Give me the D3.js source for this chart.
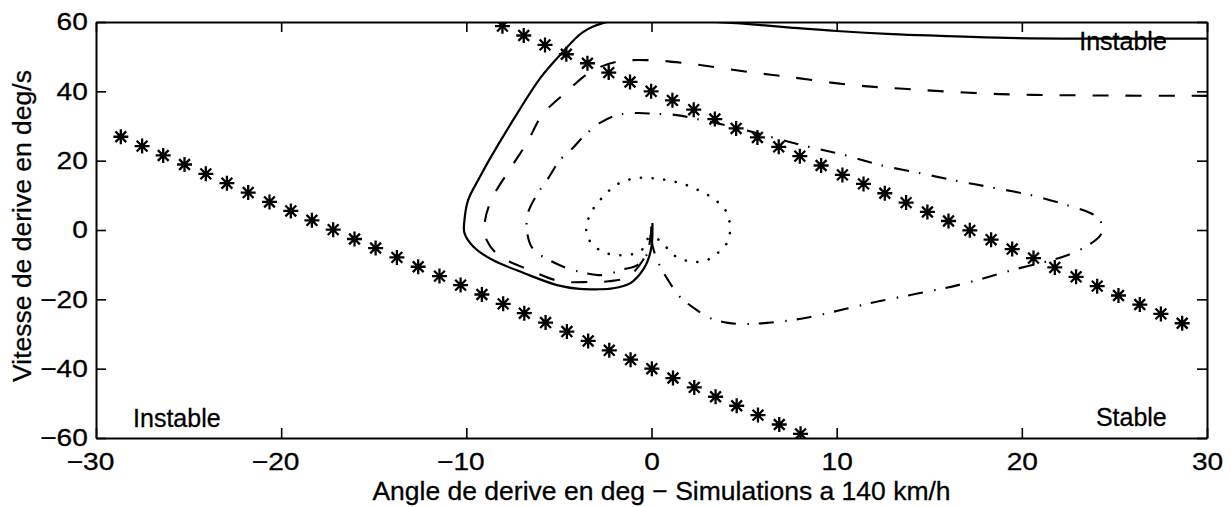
<!DOCTYPE html>
<html><head><meta charset="utf-8">
<script src="https://cdn.jsdelivr.net/npm/d3@7"></script>
<style>body{margin:0;background:#fff}svg{display:block}</style>
</head><body>
<svg id="chart" width="1231" height="507"></svg>
<script>
// ---- data ----
const xTicks = [-30, -20, -10, 0, 10, 20, 30];
const yTicks = [-60, -40, -20, 0, 20, 40, 60];

// asterisk line (lower, "Instable" boundary)
const starLowX = [-28.66,-27.51,-26.37,-25.22,-24.07,-22.93,-21.78,-20.63,-19.48,-18.34,-17.19,-16.04,-14.90,-13.75,-12.60,-11.45,-10.31,-9.16,-8.01,-6.87,-5.72,-4.57,-3.42,-2.28,-1.13,0.02,1.16,2.31,3.46,4.60,5.75,6.90,8.05];
const starLowY = [26.9,24.2,21.5,18.9,16.2,13.5,10.8,8.1,5.5,2.8,0.1,-2.6,-5.2,-7.9,-10.6,-13.3,-15.9,-18.6,-21.3,-24.0,-26.7,-29.3,-32.0,-34.7,-37.4,-40.0,-42.7,-45.4,-48.1,-50.7,-53.4,-56.1,-58.8];
// asterisk line (upper)
const starHighX = [-8.05,-6.90,-5.75,-4.60,-3.46,-2.31,-1.16,-0.02,1.13,2.28,3.42,4.57,5.72,6.87,8.01,9.16,10.31,11.45,12.60,13.75,14.90,16.04,17.19,18.34,19.48,20.63,21.78,22.93,24.07,25.22,26.37,27.51,28.66];
const starHighY = [58.8,56.1,53.4,50.7,48.1,45.4,42.7,40.0,37.4,34.7,32.0,29.3,26.7,24.0,21.3,18.6,15.9,13.3,10.6,7.9,5.2,2.6,-0.1,-2.8,-5.5,-8.1,-10.8,-13.5,-16.2,-18.9,-21.5,-24.2,-26.9];

// trajectories
const solidX  = [0.05,0.0,-0.26,-0.62,-1.16,-2.06,-2.96,-3.9,-5.1,-6.9,-8.6,-9.6,-10.1,-10.1,-9.9,-9.3,-8.7,-7.3,-6.0,-4.8,-3.7,-2.4,-1.0,1.0,3.0,4.8,7.5,10.0,13.0,15.6,19.2,24.0,30.0];
const solidY  = [2.0,-4.8,-9.6,-12.7,-15.4,-16.8,-17.1,-17.0,-15.9,-12.4,-8.6,-4.9,-0.9,2.9,8.7,15.0,20.8,33.2,43.9,51.3,57.1,60.0,60.6,60.6,60.2,59.6,58.4,57.4,56.5,56.0,55.4,55.2,55.2];

const dashedX = [0.0,-0.1,-0.5,-1.3,-2.3,-3.3,-5.0,-6.6,-8.2,-8.9,-9.0,-8.6,-7.6,-6.7,-5.9,-4.6,-3.3,-1.9,-0.2,1.7,5.2,7.5,10.5,13.4,18.8,24.2,30.0];
const dashedY = [1.0,-3.5,-9.0,-13.6,-14.8,-15.0,-14.7,-11.5,-7.5,-2.9,2.3,9.2,17.9,25.4,33.2,39.8,45.6,48.5,49.0,48.2,45.6,44.1,42.0,40.8,39.2,38.8,38.7];

const dashDotX = [0.0,-0.27,-0.76,-1.6,-2.62,-3.59,-4.56,-5.54,-6.40,-6.72,-6.67,-6.13,-5.64,-4.94,-4.35,-3.59,-2.78,-1.81,-0.78,0.19,1.27,2.46,4.40,8.34,10.45,12.34,14.50,16.55,18.55,20.71,22.6,23.57,24.11,24.38,24.22,23.52,22.49,21.25,19.52,18.55,16.55,14.50,12.34,10.45,8.29,6.24,5.16,4.13,3.16,2.29,1.54,0.89,0.35,0.05,0.0];
const dashDotY = [0.0,-7.2,-10.1,-11.5,-13.0,-12.4,-11.0,-8.65,-5.5,-0.6,4.9,10.7,14.4,20.2,23.1,27.4,30.9,33.2,33.75,33.5,33.2,32.0,29.7,24.2,21.6,18.75,16.4,14.1,12.1,9.8,6.9,5.2,3.5,0.6,-1.7,-4.6,-7.2,-9.2,-11.5,-13.0,-15.9,-18.2,-20.5,-22.8,-25.4,-26.8,-27.1,-26.8,-25.4,-22.5,-19.3,-14.4,-9.2,-4.3,-0.6];

const dottedX = [0.0,-0.16,-0.27,-0.65,-1.30,-1.89,-2.49,-3.03,-3.46,-3.51,-3.30,-2.97,-2.51,-2.08,-1.46,-0.81,-0.19,0.46,1.11,1.70,2.29,2.94,3.43,3.91,4.18,4.24,4.08,3.65,3.11,2.51,1.92,1.27,0.84,0.35,0.05];
const dottedY = [0.6,-1.4,-3.7,-6.3,-7.2,-7.2,-6.6,-4.9,-2.0,1.4,4.6,7.5,10.1,12.4,14.1,15.0,15.0,14.7,14.1,13.3,12.1,10.4,8.7,6.4,3.2,-0.6,-3.7,-6.3,-8.4,-9.2,-8.9,-7.5,-5.2,-2.6,0.0];

const annotTexts = ["Instable", "Instable", "Stable"];
const annotX = [23.1, -28.0, 24.0];
const annotY = [51.9, -56.8, -56.5];

const xLabel = "Angle de derive en deg \u2212 Simulations a 140 km/h";
const yLabel = "Vitesse de derive en deg/s";

// ---- drawing ----
const svg = d3.select("#chart");
const FONT = "'Liberation Sans', Arial, Helvetica, sans-serif";
const x = d3.scaleLinear().domain([-30, 30]).range([96, 1207]);
const y = d3.scaleLinear().domain([-60, 60]).range([438, 22]);

svg.append("rect").attr("width", 1231).attr("height", 507).attr("fill", "#fff");

svg.append("clipPath").attr("id", "plotclip")
  .append("rect")
  .attr("x", x(-30)).attr("y", y(60))
  .attr("width", x(30) - x(-30)).attr("height", y(-60) - y(60));

const plot = svg.append("g").attr("clip-path", "url(#plotclip)");

const line = d3.line().x(d => x(d[0])).y(d => y(d[1])).curve(d3.curveCatmullRom.alpha(0.5));
const zip = (a, b) => a.map((v, i) => [v, b[i]]);

const series = [
  {pts: zip(solidX, solidY), dash: null, w: 2.2, cap: "butt"},
  {pts: zip(dashedX, dashedY), dash: "16,17", w: 2.1, cap: "butt"},
  {pts: zip(dashDotX, dashDotY), dash: "15,10,1.5,11.5", w: 2.1, cap: "butt"},
  {pts: zip(dottedX, dottedY), dash: "0.1,11.6", w: 2.6, cap: "round"}
];
series.forEach(s => {
  plot.append("path")
    .attr("d", line(s.pts))
    .attr("fill", "none")
    .attr("stroke", "#000")
    .attr("stroke-width", s.w)
    .attr("stroke-linecap", s.cap)
    .attr("stroke-linejoin", "round")
    .attr("stroke-dasharray", s.dash);
});

const starPath = "M-7.5,0H7.5M0,-7.5V7.5M-5.4,-5.4L5.4,5.4M-5.4,5.4L5.4,-5.4";
[zip(starLowX, starLowY), zip(starHighX, starHighY)].forEach(pts => {
  plot.selectAll(null).data(pts).enter().append("path")
    .attr("transform", d => `translate(${x(d[0])},${y(d[1])})`)
    .attr("d", starPath)
    .attr("fill", "none")
    .attr("stroke", "#000")
    .attr("stroke-width", 2.3);
});

// annotations
svg.selectAll(null).data(annotTexts.map((t, i) => ({t, x: annotX[i], y: annotY[i]})))
  .enter().append("text")
  .attr("x", d => x(d.x)).attr("y", d => y(d.y))
  .attr("font-family", FONT).attr("font-size", 25)
  .attr("fill", "#000").attr("stroke", "#000").attr("stroke-width", 0.3)
  .text(d => d.t);

// axes
const fmt = d3.format("d");
const styleAxis = (g) => {
  g.select(".domain").attr("stroke-width", 2).attr("stroke", "#000");
  g.selectAll(".tick line").attr("stroke-width", 1.6).attr("stroke", "#000");
  g.selectAll(".tick text").attr("font-family", FONT).attr("font-size", 24).attr("fill", "#000")
    .attr("stroke", "#000").attr("stroke-width", 0.3);
};

const gx = svg.append("g").attr("transform", `translate(0,${y(-60)})`)
  .call(d3.axisBottom(x).tickValues(xTicks).tickFormat(fmt).tickSizeInner(-10).tickSizeOuter(0).tickPadding(15));
styleAxis(gx);
gx.selectAll(".tick text").attr("transform", d => `translate(${d < 0 ? -6 : 0},0) scale(1.17,1)`);

const gy = svg.append("g").attr("transform", `translate(${x(-30)},0)`)
  .call(d3.axisLeft(y).tickValues(yTicks).tickFormat(fmt).tickSizeInner(-10).tickSizeOuter(0).tickPadding(7));
styleAxis(gy);
gy.selectAll(".tick text").attr("transform", "scale(1.17,1)");

const gt = svg.append("g").attr("transform", `translate(0,${y(60)})`)
  .call(d3.axisTop(x).tickValues(xTicks).tickFormat("").tickSizeInner(-10).tickSizeOuter(0));
styleAxis(gt);
const gr = svg.append("g").attr("transform", `translate(${x(30)},0)`)
  .call(d3.axisRight(y).tickValues(yTicks).tickFormat("").tickSizeInner(-10).tickSizeOuter(0));
styleAxis(gr);

// axis titles
svg.append("text")
  .attr("x", (x.range()[0] + x.range()[1]) / 2 + 10).attr("y", 500)
  .attr("text-anchor", "middle")
  .attr("font-family", FONT).attr("font-size", 26.5).attr("fill", "#000")
  .attr("stroke", "#000").attr("stroke-width", 0.3)
  .text(xLabel);

svg.append("text")
  .attr("transform", `translate(31,${(y.range()[0] + y.range()[1]) / 2 - 4}) rotate(-90)`)
  .attr("text-anchor", "middle")
  .attr("font-family", FONT).attr("font-size", 26.5).attr("fill", "#000")
  .attr("stroke", "#000").attr("stroke-width", 0.3)
  .text(yLabel);
</script>
</body></html>
